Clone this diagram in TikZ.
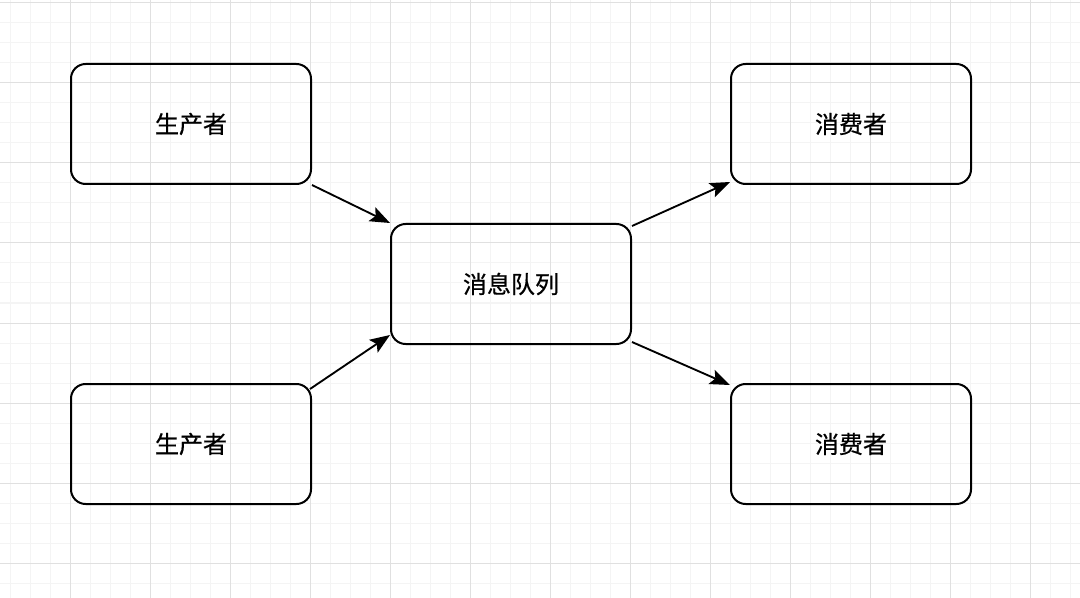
\documentclass[tikz,border=0pt]{standalone}
\usepackage{fontspec}
\newfontfamily\cjk{Noto Sans CJK SC}[FakeBold=0.6]
\usetikzlibrary{arrows.meta,calc}
\definecolor{gminor}{HTML}{F4F4F4}
\definecolor{gmajor}{HTML}{E0E0E0}
\begin{document}
\begin{tikzpicture}[x=0.75pt,y=-0.75pt,
  box/.style={draw,line width=1.5pt,rounded corners=11pt,minimum width=180pt,minimum height=90pt,inner sep=0pt,font=\cjk\fontsize{18}{20}\selectfont},
  conn/.style={line width=1.4pt,-{Stealth[length=15pt,width=11.5pt,inset=3pt]}}]
\fill[white] (0,0) rectangle (1080,598);
\useasboundingbox (0,0) rectangle (1080,598);
\foreach \x in {10,30,...,1070} \draw[gminor,line width=0.75pt] (\x,0) -- (\x,598);
\foreach \y in {3,23,...,598} \draw[gminor,line width=0.75pt] (0,\y) -- (1080,\y);
\foreach \x in {70,150,...,1070} \draw[gmajor,line width=0.75pt] (\x,0) -- (\x,598);
\foreach \y in {3,83,...,598} \draw[gmajor,line width=0.75pt] (0,\y) -- (1080,\y);
\node[box] (p1) at (191,124) {生产者};
\node[box] (p2) at (191,444) {生产者};
\node[box] (q) at (511,284) {消息队列};
\node[box] (c1) at (851,124) {消费者};
\node[box] (c2) at (851,444) {消费者};
\draw[conn] (p1.south east) -- (q.north west);
\draw[conn] ($(p2.north east)+(-2,6)$) -- ($(q.south west)+(0,-10)$);
\draw[conn] ($(q.north east)+(0,3)$) -- ($(c1.south west)+(0,-3)$);
\draw[conn] ($(q.south east)+(0,-3)$) -- ($(c2.north west)+(0,2)$);
\end{tikzpicture}
\end{document}
